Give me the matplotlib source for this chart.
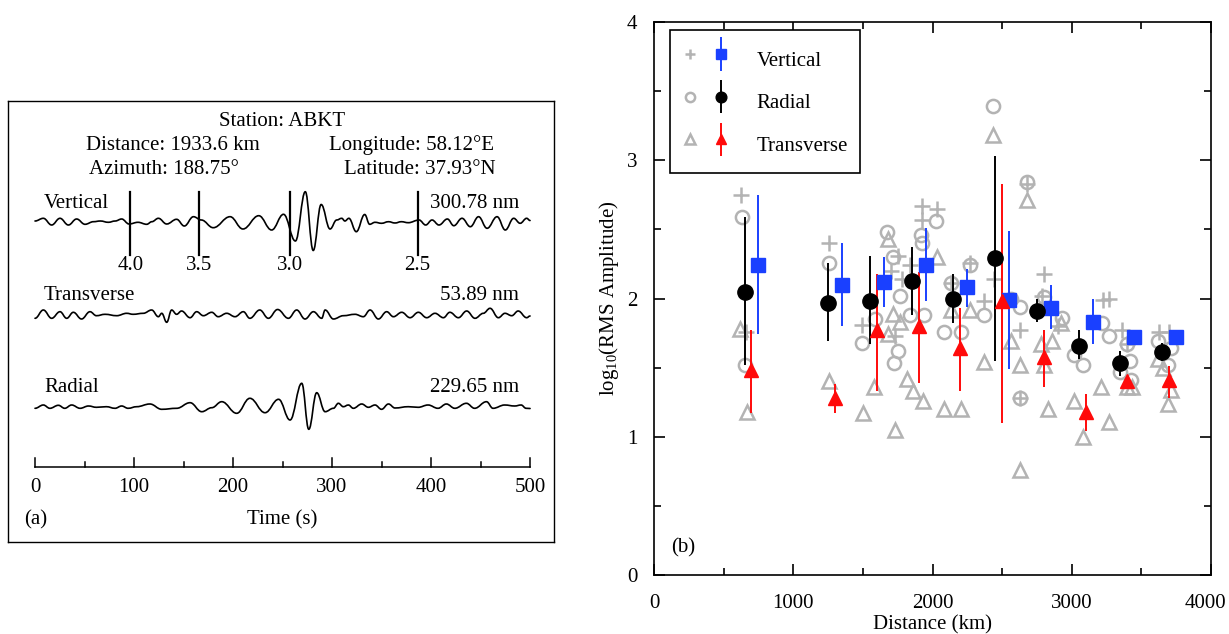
"""
Two panels: (a) three-component seismogram at ABKT, (b) log10 RMS amplitude vs distance
"""
import matplotlib
matplotlib.use('Agg')
import matplotlib.pyplot as plt
import matplotlib.transforms as mtransforms
from matplotlib.legend_handler import HandlerTuple, HandlerErrorbar
from matplotlib.container import ErrorbarContainer
from matplotlib.path import Path
from matplotlib.patches import PathPatch
import numpy as np

plt.rcParams['font.family'] = ['Liberation Serif', 'DejaVu Serif']
plt.rcParams['mathtext.fontset'] = 'custom'
plt.rcParams['mathtext.rm'] = 'Liberation Serif'
plt.rcParams['mathtext.it'] = 'Liberation Serif:italic'

# ---------------- panel (a) data ----------------
station = 'ABKT'
distance_km = 1933.6
azimuth = 188.75
longitude = 58.12
latitude = 37.93
t_start = 387.0                 # seconds after origin of first sample
group_vel = [4.0, 3.5, 3.0, 2.5]
amp_labels = ['300.78 nm', '53.89 nm', '229.65 nm']

# waveform extrema (time s, relative amplitude)
vert_t = [0, 8.4, 16.8, 25.2, 33.7, 42, 50.5, 59, 66, 74, 81, 87.5, 95, 104, 112.8,
          118, 124.6, 133, 143, 150.8, 160, 168, 180, 197, 210, 226, 239, 251,
          263, 273, 281, 289, 298, 304.7, 309.8, 313, 317, 324.5, 333, 338, 343.4,
          350, 357, 363.6, 370, 377, 387.9, 394.6, 401, 408, 416.5, 423, 431.3,
          439.7, 448, 456.6, 466.7, 475, 483.5, 490, 496.6, 500]
vert_a = [1, 3.7, -3, 3.7, -3, 3, -2.3, 0.3, 1, -0.3, 1, 3, -2, -0.3, -2.3,
          0.3, 3.7, -2, 2.7, -4, 5.3, 2, -5.7, 5.3, -7, 6.3, -8, 7.7,
          -19, 30.3, -28.5, 17.5, -7, 2, 3.7, 1, 3.7, -9.7, 7.5, -2.3, -0.3,
          -1.3, 0.3, -1, 0.3, -0.7, 2, -3, 2, -3, 3, -3.7, 3.7,
          -4.7, 5.3, -6.3, 5.3, -8, 3.7, -1.3, 3.7, 1.5]

trans_t = [0, 8.4, 16.8, 25.2, 32, 38.7, 47, 55.5, 62, 70.7, 82.5, 92.6, 99,
           109.4, 117.8, 124.6, 128, 133, 138, 143, 148, 156.6, 163.3, 170, 178.5,
           185, 193.6, 202, 210.4, 217, 227, 235.7, 245, 255.9, 264.3, 272.7,
           281.2, 289.6, 293, 301.4, 311.4, 323.2, 331.6, 338.4, 346.8, 355.2,
           362, 370.4, 378.8, 387.2, 395.6, 404, 412.5, 419, 427.6, 436, 444.4,
           452.8, 459.6, 468, 474.7, 481.5, 488, 496.6, 500]
trans_a = [-3.3, 5, -3.3, 3.3, -3.3, 2.7, -4, 3.3, -0.7, 0.7, -0.7, 1.7, 0.7,
           1.7, 5, -1.7, 1.7, -7.3, 5, 0.7, 4, -2.7, 3.3, -0.7, 2.7,
           -1.7, 1.7, -1.7, 3.3, -3.3, 5, -3.3, 5.5, -3.3, 5, -4,
           3.3, -3.3, 5, -4, -0.7, 0.7, -1.7, 5, -4, 3.3,
           -1.7, 2.7, -2.7, 2.7, -2.7, 1.7, -2.7, 2.7, -2.7, 4, -3.3,
           1.7, 6.7, -2.7, 1.7, -0.7, 4, -2.7, -1]

rad_t = [0, 8.4, 15, 23.6, 30, 37, 45.5, 54, 62, 72, 80.8, 87.5, 94, 102.7,
         116, 128, 143, 156.6, 168.4, 178.5, 188.6, 203.7, 217, 232.3, 246,
         257.6, 269.4, 276.5, 284.5, 293, 301.4, 306.4, 311.4, 316.5, 321.5,
         330, 336.7, 343.4, 350, 357, 363.6, 377, 387, 397, 407, 415.5, 424,
         435.7, 444, 456, 462.6, 474.4, 484.5, 491, 496, 500]
rad_a = [-0.3, 3, -0.3, 2.7, -0.3, 3, -0.3, 2, 0.7, 1.3, -0.3, 2, -0.3, 1.3,
         4, -1.3, -0.3, 5.3, -3.7, 0.3, 6.3, -5.3, 9.7, -4.7, 8.7,
         -12, 24.7, -21.3, 15.3, -3.7, -0.3, 4.7, 1.3, 3, -0.3,
         4, 0.7, 3, -1.3, 4, 0, 1.3, 0.7, 3, -0.3, 4, -0.3,
         4.7, -0.3, 6.3, -0.3, 3, 2, 3, -0.3, -0.5]

time_major = [0, 100, 200, 300, 400, 500]
time_minor = [50, 150, 250, 350, 450]

# ---------------- panel (b) data ----------------
dist_v = [750, 1350, 1650, 1950, 2250, 2550, 2850, 3150, 3450, 3750]
vert_mean = [2.24, 2.10, 2.12, 2.24, 2.08, 1.99, 1.93, 1.83, 1.72, 1.72]
vert_hi = [2.75, 2.40, 2.30, 2.51, 2.21, 2.49, 2.10, 2.00, 1.76, 1.73]
vert_lo = [1.74, 1.80, 1.94, 1.98, 1.94, 1.49, 1.78, 1.67, 1.67, 1.71]

dist_r = [650, 1250, 1550, 1850, 2150, 2450, 2750, 3050, 3350, 3650]
rad_mean = [2.05, 1.97, 1.98, 2.13, 2.00, 2.29, 1.91, 1.66, 1.53, 1.61]
rad_hi = [2.59, 2.26, 2.31, 2.37, 2.18, 3.03, 2.00, 1.77, 1.62, 1.68]
rad_lo = [1.52, 1.69, 1.67, 1.88, 1.82, 1.55, 1.83, 1.56, 1.44, 1.55]

dist_t = [700, 1300, 1600, 1900, 2200, 2500, 2800, 3100, 3400, 3700]
trans_mean = [1.48, 1.28, 1.77, 1.80, 1.64, 1.98, 1.58, 1.18, 1.40, 1.41]
trans_hi = [1.77, 1.38, 2.18, 2.19, 1.93, 2.83, 1.77, 1.31, 1.44, 1.51]
trans_lo = [1.17, 1.17, 1.33, 1.39, 1.33, 1.10, 1.36, 1.04, 1.35, 1.28]

# individual station values
sv_d = [626, 662, 1256, 1495, 1705, 1734, 1755, 1778, 1838, 1926, 1926, 2030,
        2133, 2266, 2369, 2443, 2626, 2629, 2680, 2783, 2798, 2900, 3226, 3270,
        3359, 3397, 3625, 3699]
sv_a = [2.75, 1.76, 2.40, 1.81, 2.20, 1.73, 2.31, 2.14, 2.24, 2.67, 2.57, 2.65,
        2.11, 2.26, 1.98, 2.14, 1.28, 1.77, 2.83, 2.02, 2.18, 1.80, 1.99, 2.00,
        1.77, 1.67, 1.76, 1.76]

sr_d = [632, 656, 1258, 1495, 1586, 1675, 1719, 1764, 1755, 1725, 1838, 1920,
        1925, 1941, 2024, 2080, 2133, 2207, 2266, 2369, 2434, 2561, 2629, 2626,
        2680, 2798, 2930, 3019, 3078, 3220, 3270, 3344, 3418, 3427, 3397, 3616,
        3693, 3713]
sr_a = [2.59, 1.52, 2.26, 1.68, 1.85, 2.48, 2.30, 2.02, 1.62, 1.53, 1.88, 2.46,
        2.40, 1.88, 2.56, 1.76, 2.11, 1.76, 2.24, 1.88, 3.39, 2.00, 1.94, 1.28,
        2.84, 2.01, 1.86, 1.59, 1.52, 1.82, 1.73, 1.47, 1.55, 1.41, 1.67, 1.69,
        1.52, 1.64]

st_d = [620, 668, 1256, 1498, 1580, 1681, 1719, 1684, 1734, 1764, 1817, 1858,
        1935, 2030, 2080, 2133, 2207, 2266, 2369, 2434, 2561, 2629, 2629, 2680,
        2777, 2798, 2827, 2856, 2924, 3019, 3078, 3211, 3270, 3394, 3433, 3616,
        3654, 3693, 3713]
st_a = [1.78, 1.18, 1.40, 1.17, 1.36, 2.43, 1.89, 1.74, 1.05, 1.83, 1.42, 1.33,
        1.26, 2.30, 1.20, 1.92, 1.20, 1.92, 1.54, 3.18, 1.69, 1.52, 0.76, 2.71,
        1.67, 1.52, 1.20, 1.69, 1.82, 1.26, 1.00, 1.36, 1.11, 1.36, 1.36, 1.56,
        1.50, 1.24, 1.34]

GRAY = '#b3b3b3'
BLUE = '#1a40ff'
RED = '#ff0a0a'
FS = 15

fig = plt.figure(figsize=(12.29, 6.34), dpi=100)


def trace_patch(tt, yy):
    """Smooth trace through the extrema using cubic Bezier segments."""
    verts = [(tt[0], yy[0])]
    codes = [Path.MOVETO]
    for i in range(len(tt) - 1):
        dt = tt[i + 1] - tt[i]
        verts += [(tt[i] + 0.4 * dt, yy[i]), (tt[i + 1] - 0.4 * dt, yy[i + 1]),
                  (tt[i + 1], yy[i + 1])]
        codes += [Path.CURVE4] * 3
    return PathPatch(Path(verts, codes), fill=False, ec='black', lw=1.2,
                     joinstyle='round', capstyle='round')


# ================= panel (a) =================
# axes in layout units: x = time (s), y = rows from the top
ax_a = fig.add_axes([8 / 1229, 1 - 542 / 634, 546 / 1229, 441 / 634])
ax_a.set_xlim(-27.3, 524.2)
ax_a.set_ylim(542, 101)
ax_a.set_xticks([])
ax_a.set_yticks([])
for sp in ax_a.spines.values():
    sp.set_linewidth(1.0)

ax_a.text(250, 122, f'Station: {station}', ha='center', va='center', fontsize=FS)
ax_a.text(139, 145, f'Distance: {distance_km} km', ha='center', va='center', fontsize=FS)
ax_a.text(380, 145, f'Longitude: {longitude}°E', ha='center', va='center', fontsize=FS)
ax_a.text(130, 169, f'Azimuth: {azimuth}°', ha='center', va='center', fontsize=FS)
ax_a.text(389, 169, f'Latitude: {latitude}°N', ha='center', va='center', fontsize=FS)

traces = [('Vertical', vert_t, vert_a, 222, 203),
          ('Transverse', trans_t, trans_a, 315, 295),
          ('Radial', rad_t, rad_a, 408, 388)]
for (name, tt, aa, base, ly), alab in zip(traces, amp_labels):
    ax_a.add_patch(trace_patch(tt, base - np.array(aa)))
    ax_a.text(9, ly, name, ha='left', va='center', fontsize=FS)
    ax_a.text(489, ly, alab, ha='right', va='center', fontsize=FS)

# group velocity marks on the vertical trace
for v in group_vel:
    tv = distance_km / v - t_start
    ax_a.plot([tv, tv], [192, 255], color='black', lw=1.6)
    ax_a.text(tv, 265, f'{v:.1f}', ha='center', va='center', fontsize=FS)

# time axis
ax_a.plot([0, 500], [467, 467], color='black', lw=1.1)
for t in time_major:
    ax_a.plot([t, t], [467, 458], color='black', lw=1.1)
    ax_a.text(t, 487, str(t), ha='center', va='center', fontsize=FS)
for t in time_minor:
    ax_a.plot([t, t], [467, 462], color='black', lw=1.1)
ax_a.text(250, 520, 'Time (s)', ha='center', va='center', fontsize=FS)
ax_a.text(-11, 520, '(a)', ha='left', va='center', fontsize=FS)

# ================= panel (b) =================
ax_b = fig.add_axes([654 / 1229, 1 - 575 / 634, 557 / 1229, 553 / 634])

gv, = ax_b.plot(sv_d, sv_a, '+', color=GRAY, ms=11, mew=1.8, ls='none', zorder=1)
gr, = ax_b.plot(sr_d, sr_a, 'o', color=GRAY, mfc='none', ms=9.5, mew=1.8, ls='none', zorder=1)
gt, = ax_b.plot(st_d, st_a, '^', color=GRAY, mfc='none', ms=9.5, mew=1.8, ls='none', zorder=1)


def err(m, hi, lo):
    m = np.array(m)
    return [m - np.array(lo), np.array(hi) - m]


ev = ax_b.errorbar(dist_v, vert_mean, yerr=err(vert_mean, vert_hi, vert_lo), fmt='s',
                   color=BLUE, ms=10, elinewidth=1.4, capsize=0, zorder=3)
er = ax_b.errorbar(dist_r, rad_mean, yerr=err(rad_mean, rad_hi, rad_lo), fmt='o',
                   color='black', ms=11, elinewidth=1.4, capsize=0, zorder=3)
et = ax_b.errorbar(dist_t, trans_mean, yerr=err(trans_mean, trans_hi, trans_lo), fmt='^',
                   color=RED, ms=10, elinewidth=1.4, capsize=0, zorder=3)

ax_b.set_xlim(0, 4000)
ax_b.set_ylim(0, 4)
ax_b.set_xticks([0, 1000, 2000, 3000, 4000])
ax_b.set_xticks([500, 1500, 2500, 3500], minor=True)
ax_b.set_yticks([0, 1, 2, 3, 4])
ax_b.set_yticks([0.5, 1.5, 2.5, 3.5], minor=True)
ax_b.tick_params(which='both', direction='in', top=True, right=True, labelsize=FS,
                 width=1.2)
ax_b.tick_params(which='major', length=8)
ax_b.tick_params(which='minor', length=5)
ax_b.tick_params(axis='x', which='major', pad=14)
ax_b.tick_params(axis='y', which='major', pad=12)
for sp in ax_b.spines.values():
    sp.set_linewidth(1.2)

# keep the last distance label inside the canvas
last = ax_b.get_xticklabels()[-1]
last.set_transform(last.get_transform() +
                   mtransforms.ScaledTranslation(-4 / 72, 0, fig.dpi_scale_trans))

ax_b.set_xlabel('Distance (km)', fontsize=FS, labelpad=1)
ax_b.set_ylabel(r'log$_{\mathrm{10}}$(RMS Amplitude)', fontsize=FS, labelpad=4)
ax_b.text(0.03, 0.049, '(b)', transform=ax_b.transAxes, ha='left', va='center',
          fontsize=FS)

leg = ax_b.legend([(gv, ev), (gr, er), (gt, et)], ['Vertical', 'Radial', 'Transverse'],
                  handler_map={tuple: HandlerTuple(ndivide=None, pad=0.8),
                               ErrorbarContainer: HandlerErrorbar(yerr_size=0.8)},
                  loc='upper left', bbox_to_anchor=(0.029, 0.985), borderaxespad=0,
                  fancybox=False, edgecolor='black', framealpha=1, fontsize=FS,
                  markerscale=0.7, handlelength=2.2, handleheight=2.0,
                  handletextpad=1.35, labelspacing=0.5, borderpad=0.6)
leg.get_frame().set_linewidth(1.2)

fig.savefig('out.png', dpi=100)
